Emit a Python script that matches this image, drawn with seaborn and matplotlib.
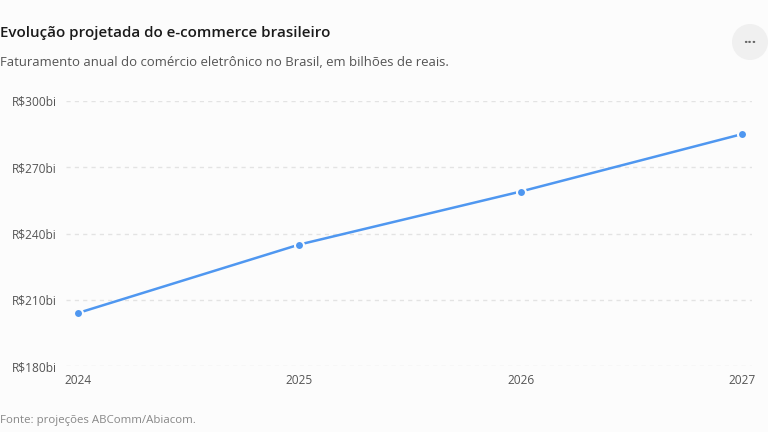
import numpy as np
import pandas as pd
import matplotlib
matplotlib.use("Agg")
import matplotlib.pyplot as plt
import seaborn as sns
from matplotlib.patches import Ellipse

anos = [2024, 2025, 2026, 2027]
faturamento = [204, 235, 259, 285]  # bilhões de reais
y_ticks = [180, 210, 240, 270, 300]

df = pd.DataFrame({"ano": anos, "faturamento": faturamento})

sns.set_style("white")
plt.rcParams["font.family"] = ["Open Sans", "DejaVu Sans"]

bg = "#fcfcfc"
azul = "#4f97f0"

fig = plt.figure(figsize=(7.68, 4.32), dpi=100, facecolor=bg)
ax = fig.add_axes([66 / 768, 1 - 366 / 432, (752 - 66) / 768, (366 - 101) / 432])
ax.set_facecolor(bg)

sns.lineplot(data=df, x="ano", y="faturamento", ax=ax, color=azul, linewidth=1.8,
             marker="o", markersize=6.5, markeredgecolor=bg, markeredgewidth=1.5,
             clip_on=False, zorder=3)

ax.set_xlim(2024 - 12 / 221.3, 2027 + 10 / 221.3)
ax.set_ylim(180, 300)
ax.set_xticks(anos)
ax.set_xticklabels([str(a) for a in anos])
ax.set_yticks(y_ticks)
ax.set_yticklabels([f"R${v}bi" for v in y_ticks])
ax.set_xlabel("")
ax.set_ylabel("")
for s in ax.spines.values():
    s.set_visible(False)
ax.grid(axis="y", color="#e3e3e3", linestyle=(0, (3, 3)), linewidth=1)
ax.tick_params(axis="both", length=0, labelsize=8.6, labelcolor="#555555")
ax.tick_params(axis="y", pad=7)
ax.tick_params(axis="x", pad=6)

fig.text(0, 1 - 33 / 432, "Evolução projetada do e-commerce brasileiro", fontsize=10.9,
         fontweight="semibold", color="#1a1a1a", va="center", ha="left")
fig.text(0, 1 - 62 / 432, "Faturamento anual do comércio eletrônico no Brasil, em bilhões de reais.",
         fontsize=9.45, color="#555555", va="center", ha="left")
fig.text(0, 1 - 421 / 432, "Fonte: projeções ABComm/Abiacom.", fontsize=8.25,
         color="#888888", va="center", ha="left")

# botão de menu
circ = Ellipse((750 / 768, 1 - 42 / 432), 36 / 768, 36 / 432, transform=fig.transFigure,
               facecolor="#f0f0f0", edgecolor="none")
fig.patches.append(circ)
fig.text(750 / 768, 1 - 43 / 432, "···", fontsize=11, fontweight="bold", color="#666666",
         ha="center", va="center")

fig.savefig("out.png", dpi=100, facecolor=bg)
